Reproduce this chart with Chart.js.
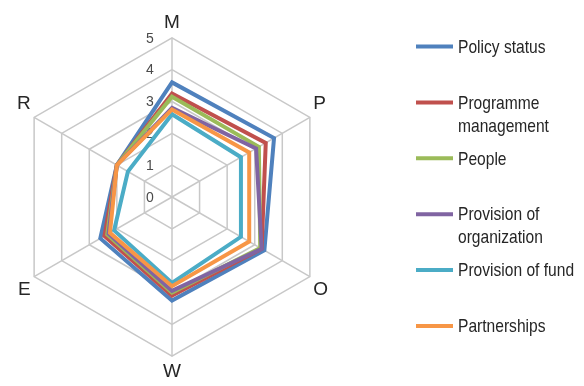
<!DOCTYPE html>
<html>
<head>
<meta charset="utf-8">
<style>
  html, body { margin: 0; padding: 0; background: #ffffff; }
  #wrap { width: 584px; height: 386px; }
</style>
<script src="https://cdn.jsdelivr.net/npm/chart.js@4/dist/chart.umd.min.js"></script>
</head>
<body>
<div id="wrap"><canvas id="radar" width="584" height="386"></canvas></div>
<script>
// Axes of the radar, clockwise from the top
const axes = ['M', 'P', 'O', 'W', 'E', 'R'];
const tickValues = [0, 1, 2, 3, 4, 5];

// Scores per axis for each assessment dimension
const policyStatus        = [3.6, 3.7, 3.35, 3.25, 2.6, 2.0];
const programmeManagement = [3.25, 3.4, 3.25, 3.1, 2.45, 2.0];
const people              = [3.15, 3.15, 3.2, 3.0, 2.35, 2.0];
const provisionOfOrg      = [2.8, 3.05, 3.25, 2.95, 2.3, 2.0];
const provisionOfFund     = [2.6, 2.5, 2.5, 2.7, 2.1, 1.6];
const partnerships        = [2.75, 2.8, 2.8, 2.8, 2.25, 2.0];

const seriesNames = ['Policy status', 'Programme management', 'People',
  'Provision of organization', 'Provision of fund', 'Partnerships'];
const seriesValues = [policyStatus, programmeManagement, people,
  provisionOfOrg, provisionOfFund, partnerships];
const seriesColors = ['#4F81BD', '#C0504D', '#9BBB59', '#8064A2', '#4BACC6', '#F79646'];

const baseFont = "'Liberation Sans', Arial, sans-serif";
const squeeze = 0.82;   // horizontal compression for the narrow legend type

// Numeric rings drawn just left of the vertical axis, beneath the series lines
const tickLabelPlugin = {
  id: 'tickLabels',
  beforeDatasetsDraw(chart) {
    const scale = chart.scales.r;
    const ctx = chart.ctx;
    ctx.save();
    ctx.font = '14px ' + baseFont;
    ctx.fillStyle = '#4a4a4a';
    ctx.textAlign = 'center';
    ctx.textBaseline = 'middle';
    tickValues.forEach(v => {
      const p = scale.getPointPositionForValue(0, v);
      ctx.fillText(String(v), p.x - 22, p.y + 1);
    });
    ctx.restore();
  }
};

// Legend on the right with wrapped labels and a line swatch per series
const sideLegendPlugin = {
  id: 'sideLegend',
  afterDraw(chart) {
    const ctx = chart.ctx;
    const x0 = 416, x1 = 453, tx = 458;
    const top = 46.5, step = 55.9, lineGap = 23, maxW = 120;
    ctx.save();
    ctx.font = '19px ' + baseFont;
    ctx.textAlign = 'left';
    ctx.textBaseline = 'middle';
    chart.data.datasets.forEach((ds, i) => {
      const y = top + step * i;
      ctx.strokeStyle = ds.borderColor;
      ctx.lineWidth = 4;
      ctx.beginPath();
      ctx.moveTo(x0, y);
      ctx.lineTo(x1, y);
      ctx.stroke();
      // wrap words to the legend column width
      const words = ds.label.split(' ');
      const lines = [];
      let cur = '';
      words.forEach(w => {
        const test = cur ? cur + ' ' + w : w;
        if (cur && ctx.measureText(test).width * squeeze > maxW) {
          lines.push(cur);
          cur = w;
        } else {
          cur = test;
        }
      });
      if (cur) lines.push(cur);
      ctx.fillStyle = '#262626';
      lines.forEach((ln, k) => {
        ctx.save();
        ctx.translate(tx, y + 1 + k * lineGap);
        ctx.scale(squeeze, 1);
        ctx.fillText(ln, 0, 0);
        ctx.restore();
      });
    });
    ctx.restore();
  }
};

const datasets = seriesNames.map((name, i) => ({
  label: name,
  data: seriesValues[i],
  borderColor: seriesColors[i],
  backgroundColor: seriesColors[i],
  borderWidth: 4,
  fill: false,
  pointRadius: 0,
  order: seriesNames.length - i
}));

new Chart(document.getElementById('radar'), {
  type: 'radar',
  data: { labels: axes, datasets: datasets },
  options: {
    responsive: false,
    animation: false,
    layout: { padding: { left: 0, right: 240, top: 12, bottom: 2 } },
    plugins: { legend: { display: false }, tooltip: { enabled: false } },
    elements: { line: { tension: 0, borderJoinStyle: 'miter' } },
    scales: {
      r: {
        min: 0,
        max: 5,
        ticks: { stepSize: 1, display: false },
        grid: { color: '#c8c8c8', lineWidth: 1.5 },
        angleLines: { color: '#c8c8c8', lineWidth: 1.5 },
        pointLabels: {
          color: '#262626',
          padding: 4,
          font: { size: 19, family: baseFont }
        }
      }
    }
  },
  plugins: [tickLabelPlugin, sideLegendPlugin]
});
</script>
</body>
</html>
